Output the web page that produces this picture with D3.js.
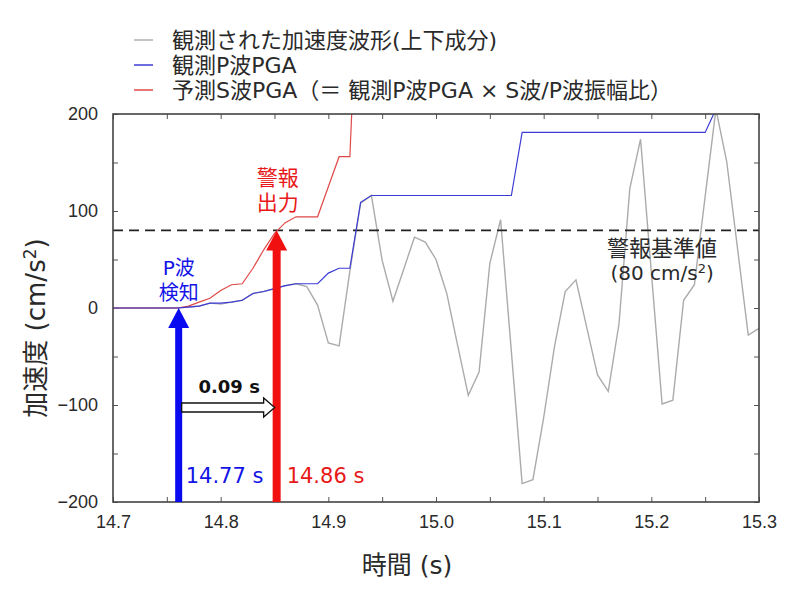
<!DOCTYPE html>
<html>
<head>
<meta charset="utf-8">
<script src="https://cdn.jsdelivr.net/npm/d3@7"></script>
<style>
  body { margin: 0; background: #fff; }
  text { font-family: "DejaVu Sans", "Noto Sans CJK JP", sans-serif; }
  .tick text { font-family: "Liberation Sans", "Noto Sans CJK JP", sans-serif; }
</style>
</head>
<body>
<svg id="chart" width="800" height="599"></svg>
<script>
// sample times (100 Hz)
const times = [14.70, 14.71, 14.72, 14.73, 14.74, 14.75, 14.76, 14.77, 14.78, 14.79,
  14.80, 14.81, 14.82, 14.83, 14.84, 14.85, 14.86, 14.87, 14.88, 14.89,
  14.90, 14.91, 14.92, 14.93, 14.94, 14.95, 14.96, 14.97, 14.98, 14.99,
  15.00, 15.01, 15.02, 15.03, 15.04, 15.05, 15.06, 15.07, 15.08, 15.09,
  15.10, 15.11, 15.12, 15.13, 15.14, 15.15, 15.16, 15.17, 15.18, 15.19,
  15.20, 15.21, 15.22, 15.23, 15.24, 15.25, 15.26, 15.27, 15.28, 15.29, 15.30];

// observed vertical acceleration (cm/s^2)
const waveform = [0, 0, 0, 0, 0, 0, 0, 1, 2, 5,
  4, 6, 8, 15, 17, 20, 23, 25, 22, 3,
  -36, -39, 38, 108, 116, 49, 7, 40, 73, 68,
  50, 15, -38, -90, -66, 46, 91, -45, -181, -177,
  -113, -40, 17, 29, -20, -69, -86, -16, 123, 174,
  37, -99, -95, 8, 24, 115, 205, 151, 62, -28, -21];

// observed P-wave PGA
const pPGA = [0, 0, 0, 0, 0, 0, 0, 1, 2, 5,
  5, 6, 8, 15, 17, 20, 23, 25, 25, 25,
  36, 41, 41, 109, 116, 116, 116, 116, 116, 116,
  116, 116, 116, 116, 116, 116, 116, 116, 181, 181,
  181, 181, 181, 181, 181, 181, 181, 181, 181, 181,
  181, 181, 181, 181, 181, 181, 205, 205, 205, 205, 205];

// predicted S-wave PGA (runs off the top after 14.92 s)
const sPGA = [0, 0, 0, 0, 0, 0, 0, 2, 6, 10,
  18, 24, 25, 41, 60, 77, 88, 94, 94, 94,
  125, 156, 156, 415];

const threshold = 80;
const detectTime = 14.761;   // P-wave detection (arrow position)
const alertTime = 14.852;    // alert issued (arrow position)
const detectLabel = "14.77 s";
const alertLabel = "14.86 s";
const gapLabel = "0.09 s";

const xTicks = [14.7, 14.75, 14.8, 14.85, 14.9, 14.95, 15.0, 15.05, 15.1, 15.15, 15.2, 15.25, 15.3];
const yTicks = [-200, -150, -100, -50, 0, 50, 100, 150, 200];

const legendItems = [
  { label: "観測された加速度波形(上下成分)", color: "#b0b0b0" },
  { label: "観測P波PGA", color: "#3c3cd6" },
  { label: "予測S波PGA（＝ 観測P波PGA × S波/P波振幅比）", color: "#e04848" }
];

const BLUE = "#1414e6";
const RED = "#e81818";
const INK = "#2a2a2a";

const svg = d3.select("#chart");
const margin = { left: 113, top: 114, right: 41, bottom: 97 };
const width = 800 - margin.left - margin.right;
const height = 599 - margin.top - margin.bottom;

const x = d3.scaleLinear().domain([14.7, 15.3]).range([0, width]);
const y = d3.scaleLinear().domain([-200, 200]).range([height, 0]);

const g = svg.append("g").attr("transform", `translate(${margin.left},${margin.top})`);

g.append("clipPath").attr("id", "plotClip")
  .append("rect").attr("width", width).attr("height", height);

const fmtX = d => (Math.round(d * 100) % 10 === 0) ? d.toFixed(1) : "";
const fmtY = d => (d % 100 === 0) ? (d < 0 ? "\u2212" + (-d) : String(d)) : "";

// axes, ticks pointing inward and mirrored on top/right
g.append("g").attr("transform", `translate(0,${height})`)
  .call(d3.axisBottom(x).tickValues(xTicks).tickFormat(fmtX).tickSize(-5).tickSizeOuter(0).tickPadding(13));
g.append("g")
  .call(d3.axisTop(x).tickValues(xTicks).tickFormat("").tickSize(-5).tickSizeOuter(0));
g.append("g")
  .call(d3.axisLeft(y).tickValues(yTicks).tickFormat(fmtY).tickSize(-5).tickSizeOuter(0).tickPadding(15));
g.append("g").attr("transform", `translate(${width},0)`)
  .call(d3.axisRight(y).tickValues(yTicks).tickFormat("").tickSize(-5).tickSizeOuter(0));

g.selectAll(".domain").remove();
g.selectAll(".tick line").attr("stroke", "#555");
g.selectAll(".tick text").attr("font-size", 18).attr("fill", INK);

const plot = g.append("g").attr("clip-path", "url(#plotClip)");

const line = d3.line().x((d, i) => x(times[i])).y(d => y(d));

plot.append("path").datum(waveform)
  .attr("fill", "none").attr("stroke", "#ababab").attr("stroke-width", 1.4)
  .attr("d", line);

plot.append("line")
  .attr("x1", 0).attr("x2", width)
  .attr("y1", y(threshold)).attr("y2", y(threshold))
  .attr("stroke", "#222").attr("stroke-width", 1.6).attr("stroke-dasharray", "10,6");

plot.append("path").datum(sPGA)
  .attr("fill", "none").attr("stroke", "#e04848").attr("stroke-width", 1.2)
  .attr("d", line);

plot.append("path").datum(pPGA)
  .attr("fill", "none").attr("stroke", "#3c3cd6").attr("stroke-width", 1.2)
  .attr("d", line);

// frame
g.append("rect").attr("width", width).attr("height", height)
  .attr("fill", "none").attr("stroke", "#444").attr("stroke-width", 1.6);

// vertical arrows from the bottom axis
function upArrow(t, v, color, shaft) {
  const cx = x(t), tip = y(v), headH = 20, headW = 21;
  g.append("rect")
    .attr("x", cx - shaft / 2).attr("y", tip + headH - 1)
    .attr("width", shaft).attr("height", height - tip - headH + 1)
    .attr("fill", color);
  g.append("path")
    .attr("d", `M${cx},${tip} L${cx + headW / 2},${tip + headH} L${cx - headW / 2},${tip + headH} Z`)
    .attr("fill", color);
}
upArrow(detectTime, 0, "#0a0af0", 7);
upArrow(alertTime, threshold, "#f01010", 8);

// hollow arrow showing the gap
const gapY = y(-102.6);
const ax0 = x(detectTime) + 3, ax1 = x(alertTime) - 2;
const hl = 11, sh = 4.5, hh = 9.5;
g.append("path")
  .attr("d", `M${ax0},${gapY - sh} L${ax1 - hl},${gapY - sh} L${ax1 - hl},${gapY - hh} L${ax1},${gapY}`
    + ` L${ax1 - hl},${gapY + hh} L${ax1 - hl},${gapY + sh} L${ax0},${gapY + sh} Z`)
  .attr("fill", "#fff").attr("stroke", "#111").attr("stroke-width", 1.3);

g.append("text")
  .attr("x", (ax0 + ax1) / 2 + 1).attr("y", y(-88))
  .attr("text-anchor", "middle").attr("font-size", 18).attr("font-weight", "bold").attr("fill", "#111")
  .text(gapLabel);

g.append("text").attr("x", x(detectTime) + 7).attr("y", y(-180))
  .attr("font-size", 21).attr("fill", BLUE).text(detectLabel);
g.append("text").attr("x", x(alertTime) + 10).attr("y", y(-180))
  .attr("font-size", 21).attr("fill", RED).text(alertLabel);

// annotations
function stackedText(lines, cx, baseY, color, size) {
  lines.forEach((s, i) => {
    g.append("text").attr("x", cx).attr("y", baseY + i * 25)
      .attr("text-anchor", "middle").attr("font-size", size).attr("fill", color).text(s);
  });
}
stackedText(["P波", "検知"], x(detectTime), y(34), BLUE, 20);
stackedText(["警報", "出力"], x(alertTime) + 1, y(127), RED, 21);

g.append("text").attr("x", x(15.21)).attr("y", y(54))
  .attr("text-anchor", "middle").attr("font-size", 22).attr("fill", INK).text("警報基準値");
const refText = g.append("text").attr("x", x(15.21)).attr("y", y(29))
  .attr("text-anchor", "middle").attr("font-size", 20).attr("fill", INK);
refText.append("tspan").text("(80 cm/s");
refText.append("tspan").attr("dy", -7).attr("font-size", 13).text("2");
refText.append("tspan").attr("dy", 7).text(")");

// axis titles
const yTitle = svg.append("text")
  .attr("transform", `translate(45,${margin.top + height / 2 + 20}) rotate(-90)`)
  .attr("text-anchor", "middle").attr("font-size", 26).attr("fill", INK);
yTitle.append("tspan").text("加速度 (cm/s");
yTitle.append("tspan").attr("dy", -9).attr("font-size", 17).text("2");
yTitle.append("tspan").attr("dy", 9).text(")");

svg.append("text").attr("x", 407).attr("y", 574)
  .attr("text-anchor", "middle").attr("font-size", 25).attr("fill", INK).text("時間 (s)");

// legend
const legend = svg.append("g").attr("transform", "translate(134,40)");
legendItems.forEach((d, i) => {
  const row = legend.append("g").attr("transform", `translate(0,${i * 25})`);
  row.append("line").attr("x1", 0).attr("x2", 19).attr("stroke", d.color).attr("stroke-width", 1.5);
  row.append("text").attr("x", 38).attr("y", 8).attr("font-size", 22).attr("fill", INK).text(d.label);
});
</script>
</body>
</html>
